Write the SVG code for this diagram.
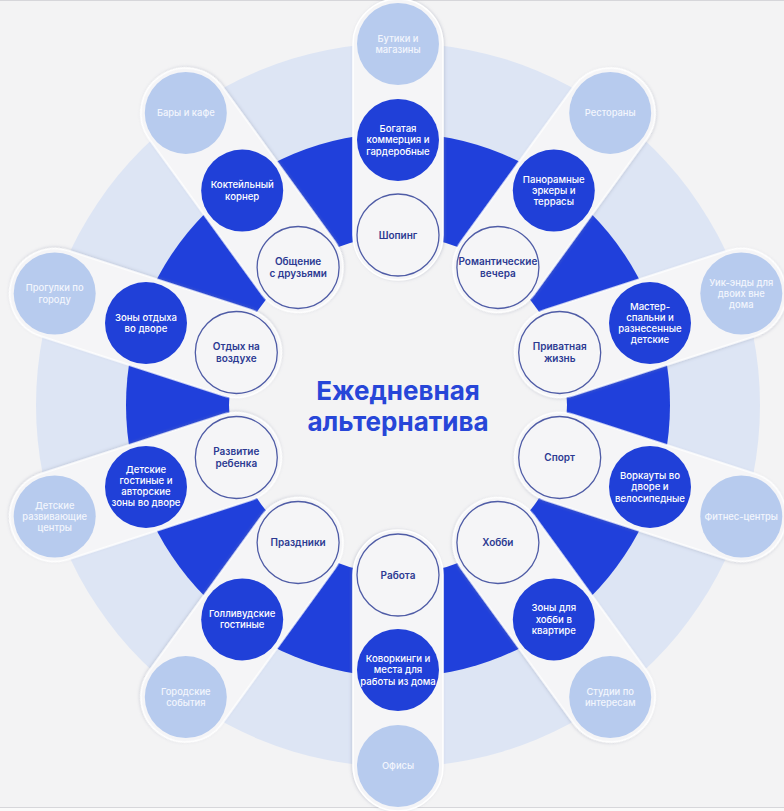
<svg xmlns="http://www.w3.org/2000/svg" width="784" height="811" viewBox="0 0 784 811">
<defs>
<filter id="sh" x="-20%" y="-30%" width="140%" height="160%">
<feDropShadow dx="0" dy="1" stdDeviation="1.5" flood-color="#7d83a0" flood-opacity="0.3"/>
</filter>
<path id="petal" d="M170,-45 L361,-45 A45,45 0 0 1 361,45 L170,45 A45,45 0 0 1 170,-45 Z"/>
</defs>
<style>
.bg{fill:#f3f3f4}
.pale{fill:#dde5f4}
.ring{fill:#2040db}
.petal{fill:#f5f5f7;stroke:#ffffff;stroke-width:1.5;filter:url(#sh)}
.inner{fill:#f5f5f7;stroke:#4f5ca6;stroke-width:1.3}
.dark{fill:#2040d8}
.light{fill:#b7cbee}
text{font-family:Inter,"Noto Sans","Liberation Sans",sans-serif;text-anchor:middle}
.ti{font-size:10px;font-weight:600;fill:#2c3a92}
.td{font-size:9.6px;font-weight:500;fill:#ffffff}
.tl{font-size:9.4px;font-weight:500;fill:#f3f6fd}
.title{font-size:26px;font-weight:700;fill:#2746d8}
</style>
<rect class="bg" x="0" y="0" width="784" height="811"/>
<line x1="0" y1="0.5" x2="784" y2="0.5" stroke="#d6d6da" stroke-width="1"/>
<line x1="0" y1="807.5" x2="784" y2="807.5" stroke="#d6d6da" stroke-width="1"/>
<rect x="0" y="808" width="784" height="3" fill="#fafafa"/>
<g id="background-rings">
<circle class="pale" cx="398" cy="405" r="362"/>
<circle class="ring" cx="398" cy="405" r="272"/>
<circle class="bg" cx="398" cy="405" r="169"/>
</g>
<g id="connectors"></g>
<g id="title">
<text class="title"><tspan x="398" y="400">Ежедневная</tspan></text>
<text class="title"><tspan x="398" y="430.5">альтернатива</tspan></text>
</g>

<g id="spoke-shopping">
<use href="#petal" class="petal" transform="translate(398,405) rotate(-90)"/>
<g id="n-shoping"><circle class="inner" cx="398" cy="235" r="41"/><text class="ti"><tspan x="398" y="238.6">Шопинг</tspan></text></g>
<g id="n-kommerciya"><circle class="dark" cx="398" cy="140" r="41"/><text class="td"><tspan x="398" y="132">Богатая</tspan><tspan x="398" dy="11.3">коммерция и</tspan><tspan x="398" dy="11.3">гардеробные</tspan></text></g>
<g id="n-butiki"><circle class="light" cx="398" cy="44" r="41"/><text class="tl"><tspan x="398" y="41.7">Бутики и</tspan><tspan x="398" dy="11.3">магазины</tspan></text></g>
</g>

<g id="spoke-romantic">
<use href="#petal" class="petal" transform="translate(398,405) rotate(-54)"/>
<g id="n-romantic"><circle class="inner" cx="497.9" cy="267.5" r="41"/><text class="ti"><tspan x="497.9" y="265.3">Романтические</tspan><tspan x="497.9" dy="12">вечера</tspan></text></g>
<g id="n-panorama"><circle class="dark" cx="553.8" cy="190.6" r="41"/><text class="td"><tspan x="553.8" y="182.6">Панорамные</tspan><tspan x="553.8" dy="11.3">эркеры и</tspan><tspan x="553.8" dy="11.3">террасы</tspan></text></g>
<g id="n-restorany"><circle class="light" cx="610.2" cy="112.9" r="41"/><text class="tl"><tspan x="610.2" y="116.3">Рестораны</tspan></text></g>
</g>

<g id="spoke-private">
<use href="#petal" class="petal" transform="translate(398,405) rotate(-18)"/>
<g id="n-private"><circle class="inner" cx="559.7" cy="352.5" r="41"/><text class="ti"><tspan x="559.7" y="350.3">Приватная</tspan><tspan x="559.7" dy="12">жизнь</tspan></text></g>
<g id="n-master"><circle class="dark" cx="650" cy="323.1" r="41"/><text class="td"><tspan x="650" y="309.6">Мастер-</tspan><tspan x="650" dy="11">спальни и</tspan><tspan x="650" dy="11">разнесенные</tspan><tspan x="650" dy="11">детские</tspan></text></g>
<g id="n-weekend"><circle class="light" cx="741.3" cy="293.5" r="41"/><text class="tl"><tspan x="741.3" y="285.5">Уик-энды для</tspan><tspan x="741.3" dy="11.3">двоих вне</tspan><tspan x="741.3" dy="11.3">дома</tspan></text></g>
</g>

<g id="spoke-sport">
<use href="#petal" class="petal" transform="translate(398,405) rotate(18)"/>
<g id="n-sport"><circle class="inner" cx="559.7" cy="457.5" r="41"/><text class="ti"><tspan x="559.7" y="461.1">Спорт</tspan></text></g>
<g id="n-workout"><circle class="dark" cx="650" cy="486.9" r="41"/><text class="td"><tspan x="650" y="478.9">Воркауты во</tspan><tspan x="650" dy="11.3">дворе и</tspan><tspan x="650" dy="11.3">велосипедные</tspan></text></g>
<g id="n-fitness"><circle class="light" cx="741.3" cy="516.5" r="41"/><text class="tl"><tspan x="741.3" y="519.9">Фитнес-центры</tspan></text></g>
</g>

<g id="spoke-hobby">
<use href="#petal" class="petal" transform="translate(398,405) rotate(54)"/>
<g id="n-hobby"><circle class="inner" cx="497.9" cy="542.5" r="41"/><text class="ti"><tspan x="497.9" y="546.1">Хобби</tspan></text></g>
<g id="n-hobbyzones"><circle class="dark" cx="553.8" cy="619.4" r="41"/><text class="td"><tspan x="553.8" y="611.4">Зоны для</tspan><tspan x="553.8" dy="11.3">хобби в</tspan><tspan x="553.8" dy="11.3">квартире</tspan></text></g>
<g id="n-studios"><circle class="light" cx="610.2" cy="697.1" r="41"/><text class="tl"><tspan x="610.2" y="694.8">Студии по</tspan><tspan x="610.2" dy="11.3">интересам</tspan></text></g>
</g>

<g id="spoke-work">
<use href="#petal" class="petal" transform="translate(398,405) rotate(90)"/>
<g id="n-work"><circle class="inner" cx="398" cy="575" r="41"/><text class="ti"><tspan x="398" y="578.6">Работа</tspan></text></g>
<g id="n-coworking"><circle class="dark" cx="398" cy="670" r="41"/><text class="td"><tspan x="398" y="662">Коворкинги и</tspan><tspan x="398" dy="11.3">места для</tspan><tspan x="398" dy="11.3">работы из дома</tspan></text></g>
<g id="n-offices"><circle class="light" cx="398" cy="766" r="41"/><text class="tl"><tspan x="398" y="769.4">Офисы</tspan></text></g>
</g>

<g id="spoke-holidays">
<use href="#petal" class="petal" transform="translate(398,405) rotate(126)"/>
<g id="n-holidays"><circle class="inner" cx="298.1" cy="542.5" r="41"/><text class="ti"><tspan x="298.1" y="546.1">Праздники</tspan></text></g>
<g id="n-hollywood"><circle class="dark" cx="242.2" cy="619.4" r="41"/><text class="td"><tspan x="242.2" y="617.1">Голливудские</tspan><tspan x="242.2" dy="11.3">гостиные</tspan></text></g>
<g id="n-cityevents"><circle class="light" cx="185.8" cy="697.1" r="41"/><text class="tl"><tspan x="185.8" y="694.8">Городские</tspan><tspan x="185.8" dy="11.3">события</tspan></text></g>
</g>

<g id="spoke-children">
<use href="#petal" class="petal" transform="translate(398,405) rotate(162)"/>
<g id="n-children"><circle class="inner" cx="236.3" cy="457.5" r="41"/><text class="ti"><tspan x="236.3" y="455.3">Развитие</tspan><tspan x="236.3" dy="12">ребенка</tspan></text></g>
<g id="n-kidslounges"><circle class="dark" cx="146" cy="486.9" r="41"/><text class="td"><tspan x="146" y="473.4">Детские</tspan><tspan x="146" dy="11">гостиные и</tspan><tspan x="146" dy="11">авторские</tspan><tspan x="146" dy="11">зоны во дворе</tspan></text></g>
<g id="n-kidscenters"><circle class="light" cx="54.7" cy="516.5" r="41"/><text class="tl"><tspan x="54.7" y="508.5">Детские</tspan><tspan x="54.7" dy="11.3">развивающие</tspan><tspan x="54.7" dy="11.3">центры</tspan></text></g>
</g>

<g id="spoke-outdoor">
<use href="#petal" class="petal" transform="translate(398,405) rotate(198)"/>
<g id="n-outdoor"><circle class="inner" cx="236.3" cy="352.5" r="41"/><text class="ti"><tspan x="236.3" y="350.3">Отдых на</tspan><tspan x="236.3" dy="12">воздухе</tspan></text></g>
<g id="n-yardzones"><circle class="dark" cx="146" cy="323.1" r="41"/><text class="td"><tspan x="146" y="320.8">Зоны отдыха</tspan><tspan x="146" dy="11.3">во дворе</tspan></text></g>
<g id="n-walks"><circle class="light" cx="54.7" cy="293.5" r="41"/><text class="tl"><tspan x="54.7" y="291.2">Прогулки по</tspan><tspan x="54.7" dy="11.3">городу</tspan></text></g>
</g>

<g id="spoke-friends">
<use href="#petal" class="petal" transform="translate(398,405) rotate(234)"/>
<g id="n-friends"><circle class="inner" cx="298.1" cy="267.5" r="41"/><text class="ti"><tspan x="298.1" y="265.3">Общение</tspan><tspan x="298.1" dy="12">с друзьями</tspan></text></g>
<g id="n-cocktail"><circle class="dark" cx="242.2" cy="190.6" r="41"/><text class="td"><tspan x="242.2" y="188.3">Коктейльный</tspan><tspan x="242.2" dy="11.3">корнер</tspan></text></g>
<g id="n-bars"><circle class="light" cx="185.8" cy="112.9" r="41"/><text class="tl"><tspan x="185.8" y="116.3">Бары и кафе</tspan></text></g>
</g>
</svg>
